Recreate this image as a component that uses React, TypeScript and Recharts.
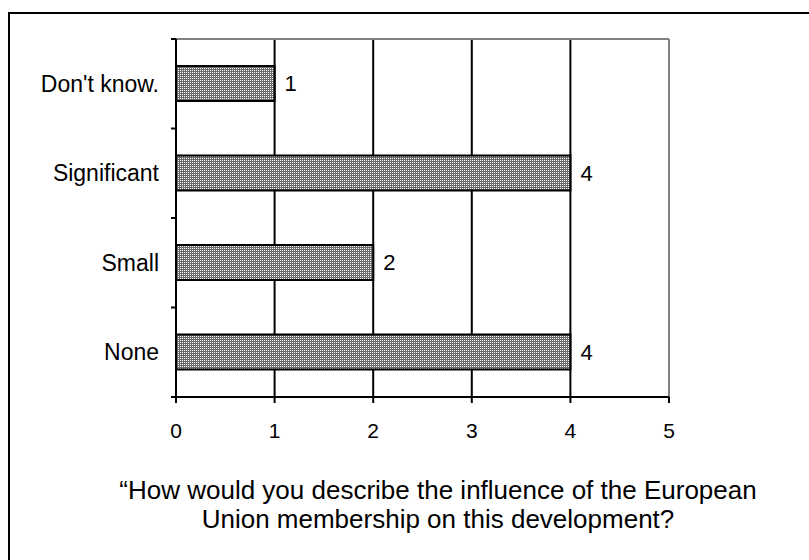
import { BarChart, Bar, XAxis, YAxis, CartesianGrid, ReferenceLine, LabelList } from "recharts";

const categories = ["Don't know.", "Significant", "Small", "None"];
const counts = [1, 4, 2, 4];
const xTicks = [0, 1, 2, 3, 4, 5];
const titleLines = [
  "\u201cHow would you describe the influence of the European",
  "Union membership on this development?",
];

const data = categories.map((name, i) => ({ name, value: counts[i] }));

const FONT = "Arial, 'Liberation Sans', sans-serif";
const LABEL_GAP = 17;
const TICK_LEN = 5;

// category label in the middle of the band, tick marks on the band edges
function CategoryTick(props: any) {
  const { x, y, payload, index, visibleTicksCount } = props;
  const half = payload?.offset ?? 0;
  const axisX = x + LABEL_GAP;
  const isLast = index === visibleTicksCount - 1;
  return (
    <g>
      <line x1={axisX - TICK_LEN} x2={axisX} y1={y - half} y2={y - half} stroke="#000" strokeWidth={2} />
      {isLast && (
        <line x1={axisX - TICK_LEN} x2={axisX} y1={y + half} y2={y + half} stroke="#000" strokeWidth={2} />
      )}
      <text x={x} y={y} dy="0.355em" textAnchor="end" fill="#000" fontSize={23} fontFamily={FONT}>
        {payload.value}
      </text>
    </g>
  );
}

export default function App() {
  return (
    <div
      style={{
        position: "absolute",
        left: 8,
        top: 12,
        width: 801,
        height: 548,
        borderLeft: "2px solid #000",
        borderTop: "2px solid #000",
        boxSizing: "border-box",
        background: "#fff",
        fontFamily: FONT,
      }}
    >
      <div style={{ position: "absolute", left: 0, top: 0 }}>
        <BarChart
          width={799}
          height={546}
          data={data}
          layout="vertical"
          margin={{ top: 24, right: 140, bottom: 0, left: 0 }}
        >
          <defs>
            <pattern id="dots" width="2" height="2" patternUnits="userSpaceOnUse">
              <rect width="2" height="2" fill="#6a6a6a" />
              <rect width="1" height="1" fill="#ffffff" />
            </pattern>
          </defs>
          <CartesianGrid xAxisId="x" yAxisId="cat" horizontal={false} stroke="#000" strokeWidth={2} />
          <XAxis
            xAxisId="x"
            type="number"
            domain={[0, 5]}
            ticks={xTicks}
            height={163}
            axisLine={{ stroke: "#000", strokeWidth: 2 }}
            tickLine={{ stroke: "#000", strokeWidth: 2 }}
            tickSize={6}
            tickMargin={20}
            tick={{ fill: "#000", fontSize: 21, fontFamily: FONT }}
          />
          {/* thin top axis only supplies the grey frame line */}
          <XAxis
            xAxisId="top"
            orientation="top"
            type="number"
            domain={[0, 5]}
            height={1}
            tick={false}
            tickLine={false}
            axisLine={{ stroke: "#808080", strokeWidth: 2 }}
          />
          <YAxis
            yAxisId="cat"
            type="category"
            dataKey="name"
            width={166}
            axisLine={{ stroke: "#000", strokeWidth: 2 }}
            tickLine={false}
            tickSize={0}
            tickMargin={LABEL_GAP}
            tick={<CategoryTick />}
          />
          <ReferenceLine xAxisId="x" yAxisId="cat" x={5} stroke="#808080" strokeWidth={2} />
          <Bar
            xAxisId="x"
            yAxisId="cat"
            dataKey="value"
            barSize={35}
            fill="url(#dots)"
            stroke="#000"
            strokeWidth={2}
            isAnimationActive={false}
          >
            <LabelList dataKey="value" position="right" offset={10} fill="#000" fontSize={22} fontFamily={FONT} />
          </Bar>
        </BarChart>
      </div>
      <div
        style={{
          position: "absolute",
          left: 78,
          top: 462,
          width: 700,
          textAlign: "center",
          fontSize: 26,
          lineHeight: "29px",
          color: "#000",
        }}
      >
        {titleLines.map((line) => (
          <div key={line}>{line}</div>
        ))}
      </div>
    </div>
  );
}
